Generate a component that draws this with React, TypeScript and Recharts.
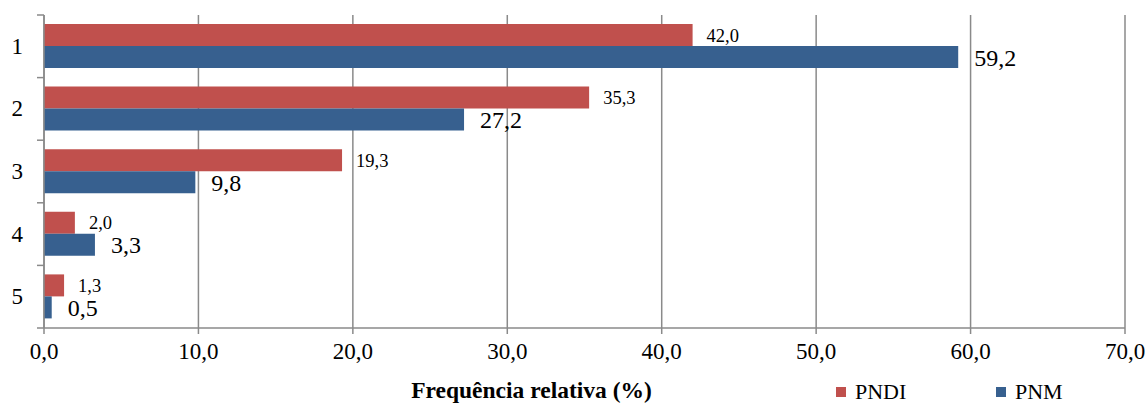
import React from "react";
import {
  BarChart,
  Bar,
  XAxis,
  YAxis,
  CartesianGrid,
  Legend,
  LabelList,
} from "recharts";

const categories = ["1", "2", "3", "4", "5"];
const pndiValues = [42.0, 35.3, 19.3, 2.0, 1.3];
const pnmValues = [59.2, 27.2, 9.8, 3.3, 0.5];
const xTicks = [0, 10, 20, 30, 40, 50, 60, 70];

const data = categories.map((cat, i) => ({
  cat,
  PNDI: pndiValues[i],
  PNM: pnmValues[i],
}));

const W = 1147;
const H = 404;
const M = { top: 15, right: 22, bottom: 0, left: 0 };
const X_AXIS_H = 76;
const Y_AXIS_W = 44;
const FONT = "Liberation Serif, Times New Roman, Times, DejaVu Serif";
const AXIS = "#8a8a8a";

const fmt = (v: any) => Number(v).toFixed(1).replace(".", ",");

const bandSize = (H - M.top - M.bottom - X_AXIS_H) / categories.length;

const CategoryTick = (props: any) => {
  const { y, payload, index } = props;
  const top = y - bandSize / 2;
  const bottom = y + bandSize / 2;
  return (
    <g>
      <line x1={Y_AXIS_W - 7} x2={Y_AXIS_W} y1={top} y2={top} stroke={AXIS} strokeWidth={1.5} />
      {index === categories.length - 1 && (
        <line x1={Y_AXIS_W - 7} x2={Y_AXIS_W} y1={bottom} y2={bottom} stroke={AXIS} strokeWidth={1.5} />
      )}
      <text
        x={23}
        y={y}
        textAnchor="end"
        dominantBaseline="central"
        style={{ fontSize: 23, fontFamily: FONT, fill: "#000" }}
      >
        {payload.value}
      </text>
    </g>
  );
};

const LegendContent = (props: any) => {
  const { payload } = props;
  return (
    <div style={{ display: "flex", fontFamily: FONT, fontSize: 22, color: "#000" }}>
      {(payload || []).map((p: any) => (
        <div key={p.value} style={{ display: "flex", alignItems: "center", width: 160 }}>
          <span
            style={{
              display: "inline-block",
              width: 10,
              height: 10,
              background: p.color,
              marginRight: 9,
            }}
          />
          <span>{p.value}</span>
        </div>
      ))}
    </div>
  );
};

export default function App() {
  return (
    <div style={{ position: "absolute", left: 0, top: 0, width: W, height: H, background: "#fff", fontFamily: FONT }}>
      <BarChart
        width={W}
        height={H}
        data={data}
        layout="vertical"
        margin={M}
        barGap={0}
        barCategoryGap="15%"
        style={{ fontFamily: FONT }}
      >
        <CartesianGrid horizontal={false} stroke={AXIS} strokeWidth={1.5} />
        <XAxis
          type="number"
          domain={[0, 70]}
          ticks={xTicks}
          tickFormatter={fmt}
          height={X_AXIS_H}
          stroke={AXIS}
          strokeWidth={1.5}
          tickSize={6}
          tickMargin={9}
          tick={{ fill: "#000", fontSize: 23, style: { fontFamily: FONT } }}
          label={{
            value: "Frequência relativa (%)",
            position: "insideBottom",
            offset: 6,
            dx: -53,
            style: { fill: "#000", fontSize: 23.5, fontWeight: "bold", fontFamily: FONT },
          }}
        />
        <YAxis
          type="category"
          dataKey="cat"
          width={Y_AXIS_W}
          stroke={AXIS}
          strokeWidth={1.5}
          tickLine={false}
          tick={<CategoryTick />}
        />
        <Legend
          layout="horizontal"
          verticalAlign="middle"
          wrapperStyle={{ left: 836, top: 379, width: 320 }}
          content={<LegendContent />}
        />
        <Bar dataKey="PNDI" name="PNDI" fill="#C0504D" barSize={22} isAnimationActive={false}>
          <LabelList
            dataKey="PNDI"
            position="right"
            offset={14}
            formatter={fmt}
            style={{ fill: "#000", fontSize: 18.5, fontFamily: FONT }}
          />
        </Bar>
        <Bar dataKey="PNM" name="PNM" fill="#37608F" barSize={22} isAnimationActive={false}>
          <LabelList
            dataKey="PNM"
            position="right"
            offset={16}
            formatter={fmt}
            style={{ fill: "#000", fontSize: 24, fontFamily: FONT }}
          />
        </Bar>
      </BarChart>
    </div>
  );
}
